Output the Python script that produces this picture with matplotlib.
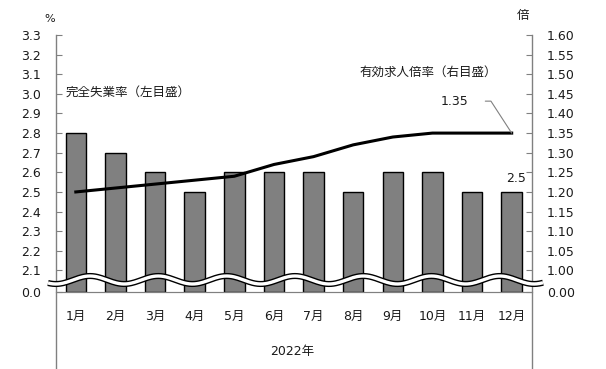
import numpy as np
import matplotlib
matplotlib.use("Agg")
import matplotlib.pyplot as plt
from matplotlib.lines import Line2D

plt.rcParams['font.family'] = ['DejaVu Sans', 'Noto Sans CJK JP']

months = ['1月', '2月', '3月', '4月', '5月', '6月', '7月', '8月', '9月', '10月', '11月', '12月']
unemp = [2.8, 2.7, 2.6, 2.5, 2.6, 2.6, 2.6, 2.5, 2.6, 2.6, 2.5, 2.5]
ratio = [1.20, 1.21, 1.22, 1.23, 1.24, 1.27, 1.29, 1.32, 1.34, 1.35, 1.35, 1.35]
left_ticks = [0.0, 2.1, 2.2, 2.3, 2.4, 2.5, 2.6, 2.7, 2.8, 2.9, 3.0, 3.1, 3.2, 3.3]
right_ticks = [0.0, 1.0, 1.05, 1.1, 1.15, 1.2, 1.25, 1.3, 1.35, 1.4, 1.45, 1.5, 1.55, 1.6]

GRAY = '#808080'
TXT = '#1a1a1a'
W, H = 606, 369


# broken axes: compress the part below the break
def lfwd(v):
    v = np.asarray(v, dtype=float)
    return np.where(v >= 2.1, v, 1.99 + v * (0.11 / 2.1))


def linv(y):
    y = np.asarray(y, dtype=float)
    return np.where(y >= 2.1, y, (y - 1.99) * (2.1 / 0.11))


def rfwd(v):
    v = np.asarray(v, dtype=float)
    return np.where(v >= 1.0, v, 0.945 + v * 0.055)


def rinv(y):
    y = np.asarray(y, dtype=float)
    return np.where(y >= 1.0, y, (y - 0.945) / 0.055)


fig = plt.figure(figsize=(W / 100, H / 100), dpi=100)
ax = fig.add_axes([56 / W, 1 - 292 / H, 475.5 / W, 257 / H])
ax2 = ax.twinx()

x = np.arange(len(months))
ax.bar(x, unemp, width=0.52, color=GRAY, edgecolor='black', linewidth=1.0, zorder=2)
ax.set_yscale('function', functions=(lfwd, linv))
ax.set_ylim(0, 3.3)
ax.set_xlim(-0.5, len(months) - 0.5)
ax.set_yticks(left_ticks)
ax.set_yticklabels(['%.1f' % t for t in left_ticks])
ax.set_xticks(x)
ax.set_xticklabels(months, fontsize=9, color=TXT)
ax.tick_params(axis='x', length=0, pad=13)
ax.tick_params(axis='y', direction='in', length=4, color=GRAY, labelsize=9,
               labelcolor=TXT, pad=11)

ax2.plot(x, ratio, color='black', linewidth=2.2, zorder=3)
ax2.set_yscale('function', functions=(rfwd, rinv))
ax2.set_ylim(0, 1.6)
ax2.set_yticks(right_ticks)
ax2.set_yticklabels(['%.2f' % t for t in right_ticks])
ax2.tick_params(axis='y', direction='in', length=4, color=GRAY, labelsize=9,
                labelcolor=TXT, pad=11)

for a in (ax, ax2):
    for s in ('top', 'left', 'right'):
        a.spines[s].set_visible(False)
    a.spines['bottom'].set_color(GRAY)

# vertical frame lines running down to the bottom edge
for px in (56, 531.5):
    fig.add_artist(Line2D([px / W, px / W], [0, 1 - 35 / H], transform=fig.transFigure,
                          color=GRAY, linewidth=1.0))

# wavy break mark
wx = np.linspace(48, 543, 400)
wy = 280 - 4 * np.cos(2 * np.pi * (wx - 90) / 68.3)
fig.add_artist(Line2D(wx / W, 1 - wy / H, transform=fig.transFigure,
                      color='black', linewidth=4.4, zorder=10, solid_capstyle='butt'))
fig.add_artist(Line2D(wx / W, 1 - wy / H, transform=fig.transFigure,
                      color='white', linewidth=2.4, zorder=11, solid_capstyle='butt'))

# labels
ax2.annotate('%.2f' % ratio[-1], xy=(x[-1], ratio[-1]), xytext=(-41, 23),
             textcoords='offset points', ha='center', va='center', fontsize=9, color=TXT,
             arrowprops=dict(arrowstyle='-', color=GRAY, linewidth=0.8,
                             connectionstyle='angle,angleA=0,angleB=123,rad=0',
                             shrinkA=10, shrinkB=0))
ax.annotate('%.1f' % unemp[-1], xy=(x[-1], unemp[-1]), xytext=(3, 9.5),
            textcoords='offset points', ha='center', va='center', fontsize=9, color=TXT)

fig.text(66 / W, 1 - 92 / H, '完全失業率（左目盛）', fontsize=9, ha='left', va='center', color=TXT)
fig.text(359 / W, 1 - 72 / H, '有効求人倍率（右目盛）', fontsize=9, ha='left', va='center', color=TXT)
fig.text(50 / W, 1 - 19 / H, '%', fontsize=8, ha='center', va='center', color=TXT)
fig.text(523 / W, 1 - 15 / H, '倍', fontsize=9, ha='center', va='center', color=TXT)
fig.text(292 / W, 1 - 352 / H, '2022年', fontsize=9, ha='center', va='center', color=TXT)

fig.savefig('out.png', dpi=100)
